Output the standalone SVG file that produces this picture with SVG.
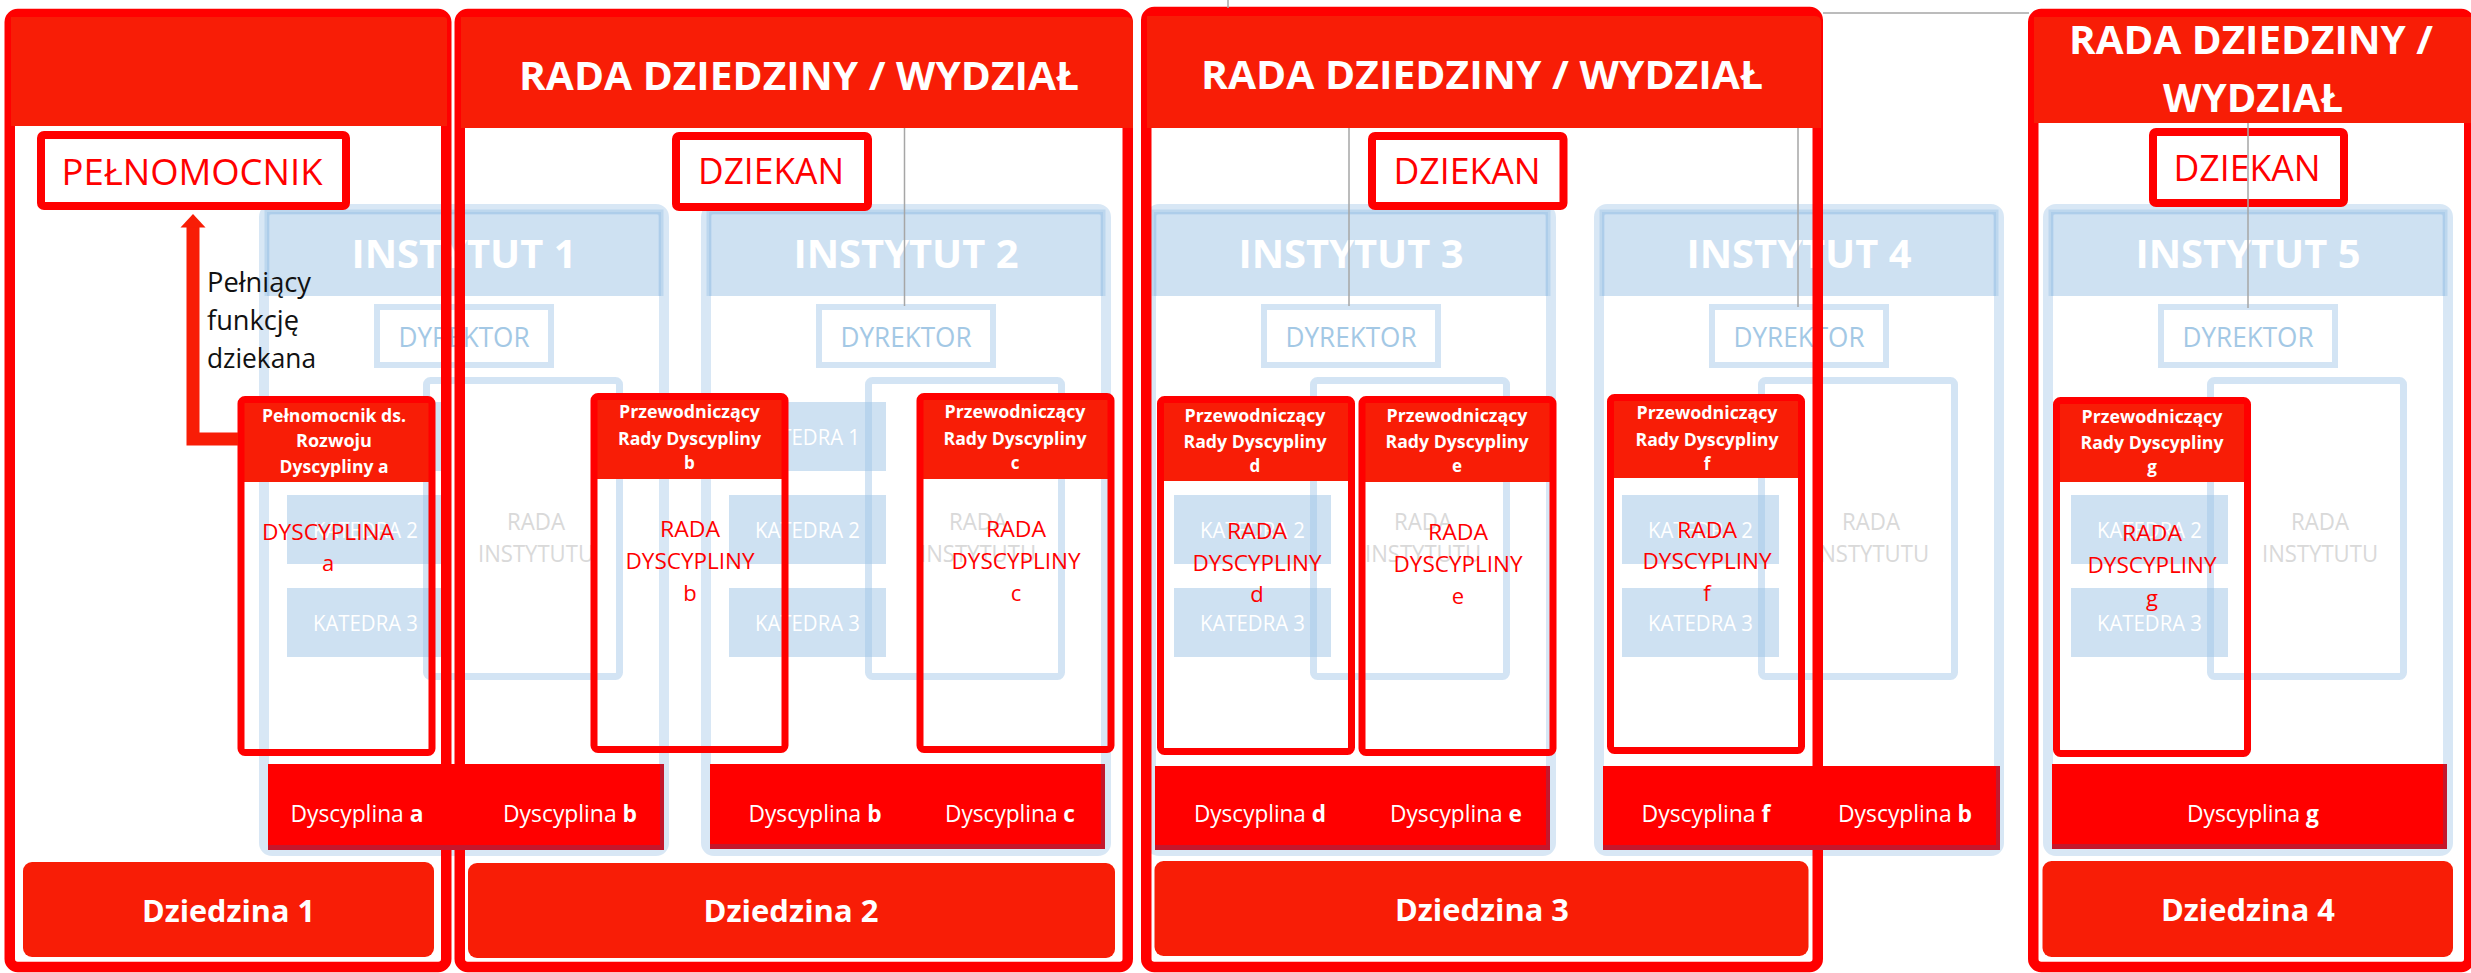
<svg xmlns="http://www.w3.org/2000/svg" width="2471" height="973" viewBox="0 0 2471 973">
<defs>
<style>
text{font-family:"Open Sans","Liberation Sans",sans-serif}
.i-out{fill:none;stroke:rgba(157,195,230,0.4);stroke-width:10}
.i-hdr{fill:rgba(157,195,230,0.5)}
.i-hdrb{fill:none;stroke:rgba(157,195,230,0.45);stroke-width:5}
.i-box{fill:none;stroke:rgba(157,195,230,0.45);stroke-width:6}
.i-rada{fill:none;stroke:rgba(157,195,230,0.45);stroke-width:7}
.i-kat{fill:rgba(157,195,230,0.5)}
.t-inst{font-weight:bold;font-size:40px;fill:#fff;text-anchor:middle}
.t-dyr{font-size:28px;fill:#a3c8e5;text-anchor:middle}
.t-rada{font-size:24px;fill:#d9d9d9;text-anchor:middle}
.t-kat{font-size:22px;fill:#fff;text-anchor:middle}
.f-str{fill:none;stroke:#ff0000;stroke-width:10.5}
.f-hdr{fill:#f81d06}
.t-title{font-weight:bold;font-size:40px;fill:#fff;text-anchor:middle}
.dz{fill:#f81d06}
.t-dz{font-weight:bold;font-size:31px;fill:#fff;text-anchor:middle}
.p-hdr{fill:#f81d06}
.p-str{fill:none;stroke:#ff0000;stroke-width:7}
.t-ph{font-weight:bold;font-size:17px;fill:#fff;text-anchor:middle}
.t-pb{font-size:22px;fill:#ff0000;text-anchor:middle}
.bar-sh{fill:#c4172c}
.bar{fill:#ff0000}
.t-bar{font-size:23px;fill:#fff;text-anchor:middle}
.dk{fill:#fff;stroke:#ff0000;stroke-width:8}
.t-dk{font-size:36px;fill:#ff0000;text-anchor:middle}
.conn{fill:none;stroke:#a6a6a6;stroke-width:1.5}
</style>
<g id="inst-tpl">
<rect class="i-out" x="5" y="209" width="400" height="642" rx="8"/>
<rect class="i-hdr" x="8" y="212" width="394" height="84"/>
<path class="i-hdrb" d="M8,296 V212 H402 V296"/>
<rect class="i-box" x="118" y="307" width="174" height="58" fill="#fff"/>
<text class="t-dyr" x="205" y="347" textLength="131" lengthAdjust="spacingAndGlyphs">DYREKTOR</text>
<rect class="i-rada" x="167.5" y="380.5" width="193" height="296" rx="4"/>
<text class="t-rada" x="277" y="530" textLength="58" lengthAdjust="spacingAndGlyphs">RADA</text>
<text class="t-rada" x="277" y="562" textLength="116" lengthAdjust="spacingAndGlyphs">INSTYTUTU</text>
<rect class="i-kat" x="28" y="402" width="157" height="69"/>
<rect class="i-kat" x="28" y="495" width="157" height="69"/>
<rect class="i-kat" x="28" y="588" width="157" height="69"/>
<text class="t-kat" x="106.5" y="444.5" textLength="105" lengthAdjust="spacingAndGlyphs">KATEDRA 1</text>
<text class="t-kat" x="106.5" y="537.5" textLength="105" lengthAdjust="spacingAndGlyphs">KATEDRA 2</text>
<text class="t-kat" x="106.5" y="630.5" textLength="105" lengthAdjust="spacingAndGlyphs">KATEDRA 3</text>
</g>
</defs>
<rect x="0" y="0" width="2471" height="973" fill="#fff"/>

<g id="instytut-1" transform="translate(259,0)">
<use href="#inst-tpl"/>
<text class="t-inst" x="205" y="268" textLength="225" lengthAdjust="spacingAndGlyphs">INSTYTUT 1</text>
</g>
<g id="instytut-2" transform="translate(701,0)">
<use href="#inst-tpl"/>
<text class="t-inst" x="205" y="268" textLength="225" lengthAdjust="spacingAndGlyphs">INSTYTUT 2</text>
</g>
<g id="instytut-3" transform="translate(1146,0)">
<use href="#inst-tpl"/>
<text class="t-inst" x="205" y="268" textLength="225" lengthAdjust="spacingAndGlyphs">INSTYTUT 3</text>
</g>
<g id="instytut-4" transform="translate(1594,0)">
<use href="#inst-tpl"/>
<text class="t-inst" x="205" y="268" textLength="225" lengthAdjust="spacingAndGlyphs">INSTYTUT 4</text>
</g>
<g id="instytut-5" transform="translate(2043,0)">
<use href="#inst-tpl"/>
<text class="t-inst" x="205" y="268" textLength="225" lengthAdjust="spacingAndGlyphs">INSTYTUT 5</text>
</g>

<g id="frame-1">
<rect class="f-str" x="9.75" y="14" width="436.5" height="953" rx="8"/>
<path class="f-hdr" d="M11,17 H444 Q447,17 447,20 V126 H11 Z"/>
</g>
<g id="frame-2">
<rect class="f-str" x="459.75" y="14" width="668" height="953" rx="8"/>
<path class="f-hdr" d="M461,17 H1127 Q1133,17 1133,23 V128 H461 Z"/>
<text class="t-title" x="799" y="90" textLength="560" lengthAdjust="spacingAndGlyphs">RADA DZIEDZINY / WYDZIAŁ</text>
</g>
<g id="frame-3">
<rect class="f-str" x="1146.25" y="12" width="671.5" height="955" rx="8"/>
<path class="f-hdr" d="M1147,16 H1815 Q1821,16 1821,22 V128 H1147 Z"/>
<text class="t-title" x="1482" y="89" textLength="562" lengthAdjust="spacingAndGlyphs">RADA DZIEDZINY / WYDZIAŁ</text>
</g>
<g id="frame-4">
<rect class="f-str" x="2033.25" y="14" width="436" height="953" rx="8"/>
<path class="f-hdr" d="M2034,17 H2471 V123 H2034 Z"/>
<text class="t-title" x="2251" y="54" textLength="364" lengthAdjust="spacingAndGlyphs">RADA DZIEDZINY /</text>
<text class="t-title" x="2253" y="112" textLength="180" lengthAdjust="spacingAndGlyphs">WYDZIAŁ</text>
</g>

<g id="dziedzina-1">
<rect class="dz" x="23" y="862" width="411" height="95" rx="9"/>
<text class="t-dz" x="228.5" y="922" textLength="173" lengthAdjust="spacingAndGlyphs">Dziedzina 1</text>
</g>
<g id="dziedzina-2">
<rect class="dz" x="468" y="863" width="647" height="95" rx="9"/>
<text class="t-dz" x="791" y="922" textLength="175" lengthAdjust="spacingAndGlyphs">Dziedzina 2</text>
</g>
<g id="dziedzina-3">
<rect class="dz" x="1154.5" y="861" width="654" height="95" rx="9"/>
<text class="t-dz" x="1482" y="921" textLength="174" lengthAdjust="spacingAndGlyphs">Dziedzina 3</text>
</g>
<g id="dziedzina-4">
<rect class="dz" x="2042.5" y="861" width="410.5" height="96" rx="9"/>
<text class="t-dz" x="2248" y="921" textLength="174" lengthAdjust="spacingAndGlyphs">Dziedzina 4</text>
</g>

<g id="pelnomocnik-a">
<rect class="p-hdr" x="239.5" y="398" width="194" height="84" rx="3"/>
<rect class="p-str" x="241" y="399.5" width="191" height="353" rx="4"/>
<text class="t-ph" x="334" y="422" textLength="144" lengthAdjust="spacingAndGlyphs">Pełnomocnik ds.</text>
<text class="t-ph" x="334" y="447" textLength="76" lengthAdjust="spacingAndGlyphs">Rozwoju</text>
<text class="t-ph" x="334" y="473" textLength="109" lengthAdjust="spacingAndGlyphs">Dyscypliny a</text>
<text class="t-pb" x="328" y="540" textLength="132" lengthAdjust="spacingAndGlyphs">DYSCYPLINA</text>
<text class="t-pb" x="328" y="571">a</text>
</g>
<g id="przew-b">
<rect class="p-hdr" x="592.5" y="395" width="194" height="84" rx="3"/>
<rect class="p-str" x="594" y="396.5" width="191" height="353" rx="4"/>
<text class="t-ph" x="689.5" y="418" textLength="141" lengthAdjust="spacingAndGlyphs">Przewodniczący</text>
<text class="t-ph" x="689.5" y="445" textLength="143" lengthAdjust="spacingAndGlyphs">Rady Dyscypliny</text>
<text class="t-ph" x="689.5" y="469">b</text>
<text class="t-pb" x="690" y="537" textLength="60" lengthAdjust="spacingAndGlyphs">RADA</text>
<text class="t-pb" x="690" y="569" textLength="129" lengthAdjust="spacingAndGlyphs">DYSCYPLINY</text>
<text class="t-pb" x="690" y="601">b</text>
</g>
<g id="przew-c">
<rect class="p-hdr" x="918.5" y="395" width="194" height="84" rx="3"/>
<rect class="p-str" x="920" y="396.5" width="191" height="353" rx="4"/>
<text class="t-ph" x="1015" y="418" textLength="141" lengthAdjust="spacingAndGlyphs">Przewodniczący</text>
<text class="t-ph" x="1015" y="445" textLength="143" lengthAdjust="spacingAndGlyphs">Rady Dyscypliny</text>
<text class="t-ph" x="1015" y="469">c</text>
<text class="t-pb" x="1016" y="537" textLength="60" lengthAdjust="spacingAndGlyphs">RADA</text>
<text class="t-pb" x="1016" y="569" textLength="129" lengthAdjust="spacingAndGlyphs">DYSCYPLINY</text>
<text class="t-pb" x="1016" y="601">c</text>
</g>
<g id="przew-d">
<rect class="p-hdr" x="1159" y="398" width="194" height="83" rx="3"/>
<rect class="p-str" x="1160.5" y="399.5" width="191" height="352" rx="4"/>
<text class="t-ph" x="1255" y="421.5" textLength="141" lengthAdjust="spacingAndGlyphs">Przewodniczący</text>
<text class="t-ph" x="1255" y="448" textLength="143" lengthAdjust="spacingAndGlyphs">Rady Dyscypliny</text>
<text class="t-ph" x="1255" y="472">d</text>
<text class="t-pb" x="1257" y="539" textLength="60" lengthAdjust="spacingAndGlyphs">RADA</text>
<text class="t-pb" x="1257" y="571" textLength="129" lengthAdjust="spacingAndGlyphs">DYSCYPLINY</text>
<text class="t-pb" x="1257" y="602">d</text>
</g>
<g id="przew-e">
<rect class="p-hdr" x="1360.5" y="398" width="194" height="84" rx="3"/>
<rect class="p-str" x="1362" y="399.5" width="191" height="353" rx="4"/>
<text class="t-ph" x="1457" y="422" textLength="141" lengthAdjust="spacingAndGlyphs">Przewodniczący</text>
<text class="t-ph" x="1457" y="448" textLength="143" lengthAdjust="spacingAndGlyphs">Rady Dyscypliny</text>
<text class="t-ph" x="1457" y="472">e</text>
<text class="t-pb" x="1458" y="540" textLength="60" lengthAdjust="spacingAndGlyphs">RADA</text>
<text class="t-pb" x="1458" y="572" textLength="129" lengthAdjust="spacingAndGlyphs">DYSCYPLINY</text>
<text class="t-pb" x="1458" y="604">e</text>
</g>
<g id="przew-f">
<rect class="p-hdr" x="1609" y="396" width="194" height="82" rx="3"/>
<rect class="p-str" x="1610.5" y="397.5" width="191" height="353" rx="4"/>
<text class="t-ph" x="1707" y="419" textLength="141" lengthAdjust="spacingAndGlyphs">Przewodniczący</text>
<text class="t-ph" x="1707" y="446" textLength="143" lengthAdjust="spacingAndGlyphs">Rady Dyscypliny</text>
<text class="t-ph" x="1707" y="470">f</text>
<text class="t-pb" x="1707" y="538" textLength="60" lengthAdjust="spacingAndGlyphs">RADA</text>
<text class="t-pb" x="1707" y="569" textLength="129" lengthAdjust="spacingAndGlyphs">DYSCYPLINY</text>
<text class="t-pb" x="1707" y="601">f</text>
</g>
<g id="przew-g">
<rect class="p-hdr" x="2055" y="399" width="194" height="83" rx="3"/>
<rect class="p-str" x="2056.5" y="400.5" width="191" height="353" rx="4"/>
<text class="t-ph" x="2152" y="423" textLength="141" lengthAdjust="spacingAndGlyphs">Przewodniczący</text>
<text class="t-ph" x="2152" y="449" textLength="143" lengthAdjust="spacingAndGlyphs">Rady Dyscypliny</text>
<text class="t-ph" x="2152" y="473">g</text>
<text class="t-pb" x="2152" y="541" textLength="60" lengthAdjust="spacingAndGlyphs">RADA</text>
<text class="t-pb" x="2152" y="573" textLength="129" lengthAdjust="spacingAndGlyphs">DYSCYPLINY</text>
<text class="t-pb" x="2152" y="606">g</text>
</g>

<g id="dyscypliny-1">
<rect class="bar-sh" x="268" y="764" width="396" height="86"/>
<rect class="bar" x="268" y="764" width="392" height="81"/>
<text class="t-bar" x="357" y="822" textLength="133" lengthAdjust="spacingAndGlyphs">Dyscyplina <tspan font-weight="bold">a</tspan></text>
<text class="t-bar" x="570" y="822" textLength="134" lengthAdjust="spacingAndGlyphs">Dyscyplina <tspan font-weight="bold">b</tspan></text>
</g>
<g id="dyscypliny-2">
<rect class="bar-sh" x="710" y="764" width="395" height="85"/>
<rect class="bar" x="710" y="764" width="391" height="80"/>
<text class="t-bar" x="815" y="822" textLength="133" lengthAdjust="spacingAndGlyphs">Dyscyplina <tspan font-weight="bold">b</tspan></text>
<text class="t-bar" x="1010" y="822" textLength="130" lengthAdjust="spacingAndGlyphs">Dyscyplina <tspan font-weight="bold">c</tspan></text>
</g>
<g id="dyscypliny-3">
<rect class="bar-sh" x="1155" y="766" width="395" height="84"/>
<rect class="bar" x="1155" y="766" width="391" height="79"/>
<text class="t-bar" x="1260" y="822" textLength="132" lengthAdjust="spacingAndGlyphs">Dyscyplina <tspan font-weight="bold">d</tspan></text>
<text class="t-bar" x="1456" y="822" textLength="132" lengthAdjust="spacingAndGlyphs">Dyscyplina <tspan font-weight="bold">e</tspan></text>
</g>
<g id="dyscypliny-4">
<rect class="bar-sh" x="1603" y="766" width="397" height="84"/>
<rect class="bar" x="1603" y="766" width="393" height="79"/>
<text class="t-bar" x="1706" y="822" textLength="129" lengthAdjust="spacingAndGlyphs">Dyscyplina <tspan font-weight="bold">f</tspan></text>
<text class="t-bar" x="1905" y="822" textLength="134" lengthAdjust="spacingAndGlyphs">Dyscyplina <tspan font-weight="bold">b</tspan></text>
</g>
<g id="dyscypliny-5">
<rect class="bar-sh" x="2052" y="764" width="395" height="85"/>
<rect class="bar" x="2052" y="764" width="391" height="80"/>
<text class="t-bar" x="2253" y="822" textLength="132" lengthAdjust="spacingAndGlyphs">Dyscyplina <tspan font-weight="bold">g</tspan></text>
</g>

<g id="pelnomocnik">
<rect class="dk" x="41" y="135" width="305" height="71" rx="3"/>
<text class="t-dk" x="192" y="185" textLength="261" lengthAdjust="spacingAndGlyphs">PEŁNOMOCNIK</text>
</g>
<g id="dziekan-2">
<rect class="dk" x="676" y="136" width="192" height="71" rx="3"/>
<text class="t-dk" x="771" y="184" textLength="146" lengthAdjust="spacingAndGlyphs">DZIEKAN</text>
</g>
<g id="dziekan-3">
<rect class="dk" x="1372" y="136" width="191.5" height="70" rx="3"/>
<text class="t-dk" x="1467" y="184" textLength="147" lengthAdjust="spacingAndGlyphs">DZIEKAN</text>
</g>
<g id="dziekan-4">
<rect class="dk" x="2153" y="132" width="191" height="71" rx="3"/>
<text class="t-dk" x="2247" y="181" textLength="147" lengthAdjust="spacingAndGlyphs">DZIEKAN</text>
</g>

<g id="connectors">
<path class="conn" d="M1228,0 V8"/>
<path class="conn" d="M1823,13 H2029"/>
<path class="conn" d="M904.5,128 V306"/>
<path class="conn" d="M1349,128 V306"/>
<path class="conn" d="M1798,128 V307"/>
<path class="conn" d="M2248,123 V308"/>
<path d="M238,439 H193 V226" fill="none" stroke="#f81d06" stroke-width="13"/>
<polygon points="180.5,227.5 205.5,227.5 193,214" fill="#f81d06"/>
<text x="207" y="292" font-size="27" fill="#111" textLength="104" lengthAdjust="spacingAndGlyphs">Pełniący</text>
<text x="207" y="330" font-size="27" fill="#111" textLength="92" lengthAdjust="spacingAndGlyphs">funkcję</text>
<text x="207" y="368" font-size="27" fill="#111" textLength="109" lengthAdjust="spacingAndGlyphs">dziekana</text>
</g>
</svg>
